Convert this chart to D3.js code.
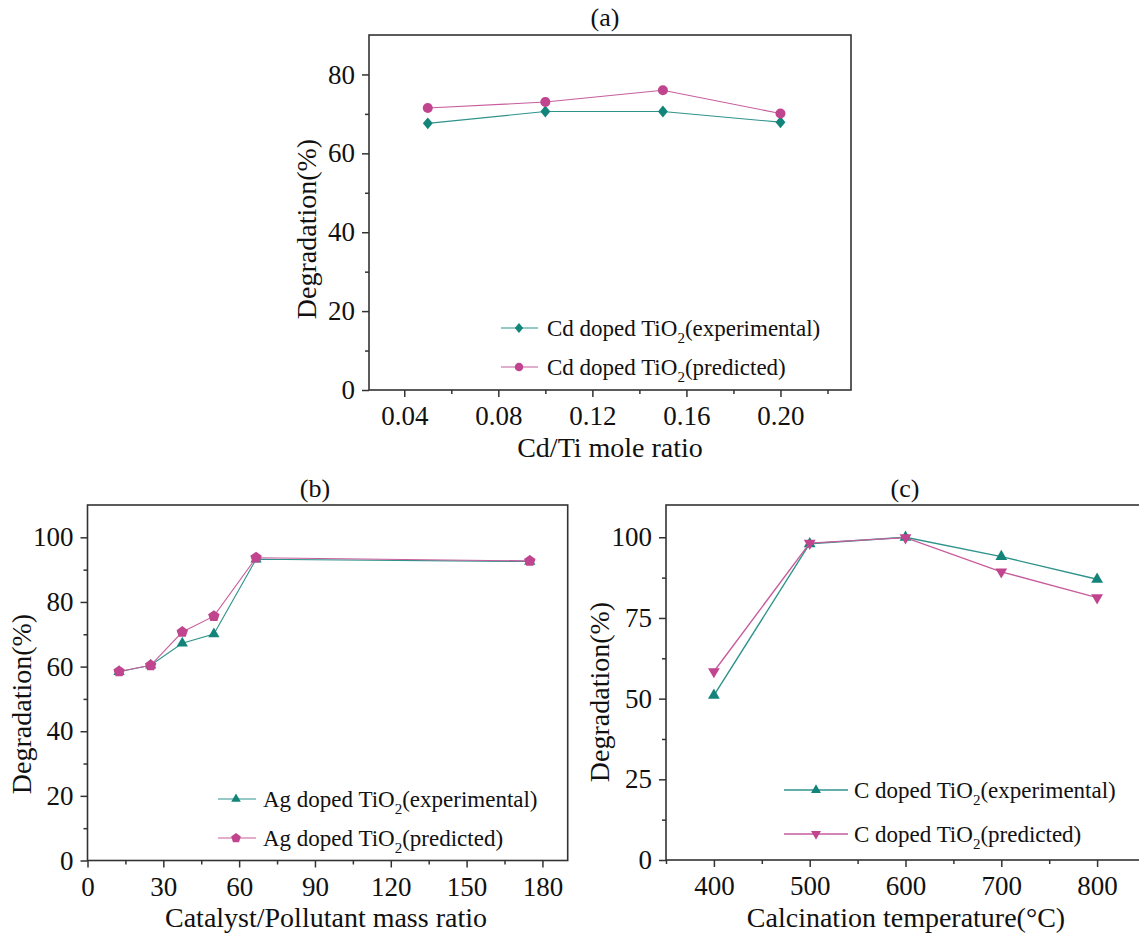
<!DOCTYPE html>
<html><head><meta charset="utf-8">
<script src="https://cdn.jsdelivr.net/npm/d3@7"></script>
<style>
body{margin:0;background:#fff}
svg{display:block}
text{font-family:"Liberation Serif","Times New Roman",serif;fill:#111}
</style>
</head><body>
<svg id="chart" width="1139" height="936"></svg>
<script>
// ---------- DATA ----------
// Panel (a)
const cdRatio = [0.05, 0.10, 0.15, 0.20];
const cdExperimental = [67.6, 70.6, 70.6, 67.9];
const cdPredicted = [71.5, 73.0, 76.0, 70.1];
const aXTicks = [0.04, 0.08, 0.12, 0.16, 0.20];
const aXMinor = [0.06, 0.10, 0.14, 0.18, 0.22];
const aYTicks = [0, 20, 40, 60, 80];
const aYMinor = [10, 30, 50, 70];
const aLegend = ["Cd doped TiO", "Cd doped TiO"];
const aLegendSuffix = ["(experimental)", "(predicted)"];

// Panel (b)
const agRatio = [12.5, 25, 37.5, 50, 66.7, 175];
const agExperimental = [58.4, 60.4, 67.2, 70.1, 93.2, 92.5];
const agPredicted = [58.5, 60.4, 70.7, 75.6, 93.7, 92.7];
const bXTicks = [0, 30, 60, 90, 120, 150, 180];
const bXMinor = [15, 45, 75, 105, 135, 165];
const bYTicks = [0, 20, 40, 60, 80, 100];
const bYMinor = [10, 30, 50, 70, 90];
const bLegend = ["Ag doped TiO", "Ag doped TiO"];
const bLegendSuffix = ["(experimental)", "(predicted)"];

// Panel (c)
const calcTemp = [400, 500, 600, 700, 800];
const cExperimental = [51.0, 98.0, 100.0, 94.0, 87.0];
const cPredicted = [58.4, 98.2, 99.9, 89.3, 81.3];
const cXTicks = [400, 500, 600, 700, 800];
const cXMinor = [350, 450, 550, 650, 750, 850];
const cYTicks = [0, 25, 50, 75, 100];
const cYMinor = [12.5, 37.5, 62.5, 87.5];
const cLegend = ["C doped TiO", "C doped TiO"];
const cLegendSuffix = ["(experimental)", "(predicted)"];

// ---------- STYLE ----------
const TEAL = "#138479", TEAL_LINE = "#2e938b";
const MAG = "#c1448e", MAG_LINE = "#c75d9c";
const AXIS = "#333";

const svg = d3.select("#chart");

function markerPath(type, r) {
  if (type === "circle") return d3.symbol(d3.symbolCircle, Math.PI * r * r)();
  if (type === "diamond") { const h = r * 1.15, w = r * 0.95; return `M0,${-h}L${w},0L0,${h}L${-w},0Z`; }
  if (type === "triUp") { return `M0,${-r}L${r*0.866},${r*0.5}L${-r*0.866},${r*0.5}Z`; }
  if (type === "triDown") { return `M0,${r}L${r*0.866},${-r*0.5}L${-r*0.866},${-r*0.5}Z`; }
  if (type === "pentagon") {
    const pts = d3.range(5).map(k => { const a = -Math.PI/2 + k * 2*Math.PI/5; return [r*Math.cos(a), r*Math.sin(a)]; });
    return "M" + pts.map(p => p.join(",")).join("L") + "Z";
  }
}

function drawPanel(cfg) {
  const g = svg.append("g");
  const x = d3.scaleLinear().domain(cfg.xDomain).range([cfg.left, cfg.right]);
  const y = d3.scaleLinear().domain(cfg.yDomain).range([cfg.bottom, cfg.top]);

  // box
  g.append("rect").attr("x", cfg.left).attr("y", cfg.top)
    .attr("width", cfg.right - cfg.left).attr("height", cfg.bottom - cfg.top)
    .attr("fill", "none").attr("stroke", AXIS).attr("stroke-width", 1.6);

  // axes
  const fs = 27;
  const xa = g.append("g").attr("transform", `translate(0,${cfg.bottom})`)
    .call(d3.axisBottom(x).tickValues(cfg.xTicks).tickFormat(cfg.xFormat).tickSize(7).tickPadding(9));
  const xm = g.append("g").attr("transform", `translate(0,${cfg.bottom})`)
    .call(d3.axisBottom(x).tickValues(cfg.xMinor).tickFormat("").tickSize(4));
  const ya = g.append("g").attr("transform", `translate(${cfg.left},0)`)
    .call(d3.axisLeft(y).tickValues(cfg.yTicks).tickFormat(d3.format("d")).tickSize(7).tickPadding(7));
  const ym = g.append("g").attr("transform", `translate(${cfg.left},0)`)
    .call(d3.axisLeft(y).tickValues(cfg.yMinor).tickFormat("").tickSize(4));
  [xa, xm, ya, ym].forEach(a => {
    a.select(".domain").remove();
    a.selectAll("line").attr("stroke", AXIS).attr("stroke-width", 1.5);
    a.selectAll("text").attr("font-size", fs).attr("font-family", "Liberation Serif").attr("fill", "#111");
  });

  // titles
  g.append("text").attr("x", cfg.titleX).attr("y", cfg.titleY).attr("text-anchor", "middle")
    .attr("font-size", 26).text(cfg.title);
  g.append("text").attr("x", cfg.xLabelX).attr("y", cfg.xLabelY).attr("text-anchor", "middle")
    .attr("font-size", 28).text(cfg.xLabel);
  g.append("text").attr("transform", `translate(${cfg.yLabelX},${cfg.yLabelY}) rotate(-90)`)
    .attr("text-anchor", "middle").attr("font-size", 28).text("Degradation(%)");

  // series
  cfg.series.forEach(s => {
    const pts = cfg.xs.map((d, i) => [x(d), y(s.values[i])]);
    g.append("path").attr("d", d3.line()(pts)).attr("fill", "none")
      .attr("stroke", s.line).attr("stroke-width", cfg.lw);
    g.selectAll(null).data(pts).enter().append("path")
      .attr("transform", p => `translate(${p[0]},${p[1]})`)
      .attr("d", markerPath(s.marker, s.r)).attr("fill", s.color);
  });

  // legend
  cfg.series.forEach((s, i) => {
    const ry = cfg.legend.rows[i];
    g.append("line").attr("x1", cfg.legend.x0).attr("x2", cfg.legend.x1).attr("y1", ry).attr("y2", ry)
      .attr("stroke", s.line).attr("stroke-width", cfg.lw);
    g.append("path").attr("transform", `translate(${cfg.legend.mx},${ry})`)
      .attr("d", markerPath(s.marker, s.r * 0.85)).attr("fill", s.color);
    const t = g.append("text").attr("x", cfg.legend.tx).attr("y", ry + 7.5).attr("font-size", 23);
    t.append("tspan").text(cfg.legendText[i]);
    t.append("tspan").attr("font-size", 15).attr("dy", 7).text("2");
    t.append("tspan").attr("dy", -7).text(cfg.legendSuffix[i]);
  });
}

drawPanel({
  left: 369, right: 851, top: 35, bottom: 390,
  xDomain: [0.025, 0.23], yDomain: [0, 90],
  xTicks: aXTicks, xMinor: aXMinor, yTicks: aYTicks, yMinor: aYMinor,
  xFormat: d3.format(".2f"),
  title: "(a)", titleX: 605, titleY: 26,
  xLabel: "Cd/Ti mole ratio", xLabelX: 610, xLabelY: 457,
  yLabelX: 316, yLabelY: 229,
  xs: cdRatio, lw: 1.1,
  series: [
    {values: cdExperimental, color: TEAL, line: TEAL_LINE, marker: "diamond", r: 5.2},
    {values: cdPredicted, color: MAG, line: MAG_LINE, marker: "circle", r: 5}
  ],
  legend: {x0: 501, x1: 538, mx: 519, tx: 547, rows: [328, 367]},
  legendText: aLegend, legendSuffix: aLegendSuffix
});

drawPanel({
  left: 87.5, right: 567.7, top: 505, bottom: 860.5,
  xDomain: [0, 190], yDomain: [0, 110],
  xTicks: bXTicks, xMinor: bXMinor, yTicks: bYTicks, yMinor: bYMinor,
  xFormat: d3.format("d"),
  title: "(b)", titleX: 315, titleY: 497,
  xLabel: "Catalyst/Pollutant mass ratio", xLabelX: 326, xLabelY: 927,
  yLabelX: 31, yLabelY: 704,
  xs: agRatio, lw: 1.1,
  series: [
    {values: agExperimental, color: TEAL, line: TEAL_LINE, marker: "triUp", r: 6.5},
    {values: agPredicted, color: MAG, line: MAG_LINE, marker: "pentagon", r: 6}
  ],
  legend: {x0: 218, x1: 256, mx: 236, tx: 263, rows: [799, 838]},
  legendText: bLegend, legendSuffix: bLegendSuffix
});

drawPanel({
  left: 666, right: 1145, top: 505, bottom: 860,
  xDomain: [350, 850], yDomain: [0, 110],
  xTicks: cXTicks, xMinor: cXMinor, yTicks: cYTicks, yMinor: cYMinor,
  xFormat: d3.format("d"),
  title: "(c)", titleX: 905, titleY: 497,
  xLabel: "Calcination temperature(\u00B0C)", xLabelX: 906, xLabelY: 927,
  yLabelX: 609, yLabelY: 692,
  xs: calcTemp, lw: 1.4,
  series: [
    {values: cExperimental, color: TEAL, line: TEAL_LINE, marker: "triUp", r: 6.8},
    {values: cPredicted, color: MAG, line: MAG_LINE, marker: "triDown", r: 6.8}
  ],
  legend: {x0: 784, x1: 848, mx: 816, tx: 854, rows: [790, 834]},
  legendText: cLegend, legendSuffix: cLegendSuffix
});
</script>
</body></html>
